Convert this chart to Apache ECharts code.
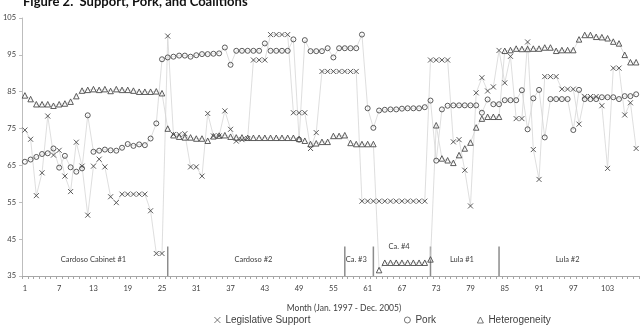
<!DOCTYPE html>
<html>
<head>
<meta charset="utf-8">
<script src="https://cdn.jsdelivr.net/npm/echarts@6/dist/echarts.min.js"></script>
<style>
  html, body { margin: 0; padding: 0; background: #fff; }
  #chart { width: 640px; height: 327px; }
</style>
</head>
<body>
<div id="chart"></div>
<script>
// months 1..108 (Jan 1997 - Dec 2005)
const months = Array.from({ length: 108 }, (_, i) => String(i + 1));

const support = [
  74.6, 72.1, 56.8, 63.0, 78.4, 67.8, 69.1, 62.1, 57.9, 71.3,
  64.8, 51.5, 64.8, 66.7, 64.6, 56.5, 54.9, 57.2, 57.2, 57.2,
  57.2, 57.2, 52.7, 41.1, 41.1, 100.1, 73.4, 73.4, 73.6, 64.6,
  64.6, 62.1, 79.1, 73.0, 73.0, 79.8, 74.8, 71.6, 72.0, 72.3,
  93.6, 93.6, 93.6, 100.5, 100.5, 100.5, 100.5, 79.3, 79.3, 79.3,
  69.6, 73.9, 90.5, 90.5, 90.5, 90.5, 90.5, 90.5, 90.5, 55.3,
  55.3, 55.3, 55.3, 55.3, 55.3, 55.3, 55.3, 55.3, 55.3, 55.3,
  55.3, 93.6, 93.6, 93.6, 93.6, 71.4, 72.0, 63.7, 54.0, 84.7,
  88.8, 85.2, 86.3, 96.2, 87.4, 94.6, 77.7, 77.7, 98.5, 69.3,
  61.2, 89.1, 89.1, 89.1, 85.7, 85.7, 85.7, 76.2, 83.7, 83.7,
  83.7, 81.2, 64.2, 91.4, 91.4, 78.7, 82.0, 69.6
];

const pork = [
  66.0, 66.6, 67.3, 68.1, 68.3, 69.6, 64.4, 67.6, 64.5, 63.3,
  64.2, 78.6, 68.7, 69.0, 69.3, 69.1, 69.0, 69.8, 70.8, 70.3,
  70.7, 70.5, 72.3, 76.4, 93.8, 94.3, 94.5, 94.8, 94.8, 94.5,
  94.9, 95.2, 95.2, 95.3, 95.4, 97.0, 92.3, 96.1, 96.1, 96.1,
  96.1, 96.1, 98.1, 96.1, 96.1, 96.1, 96.1, 99.2, 72.0, 99.0,
  96.0, 96.0, 96.0, 96.8, 94.3, 96.8, 96.8, 96.8, 96.8, 100.5,
  80.5, 75.2, 79.9, 80.1, 80.2, 80.2, 80.4, 80.5, 80.5, 80.5,
  80.8, 82.6, 66.3, 80.2, 81.2, 81.3, 81.3, 81.3, 81.3, 81.3,
  79.3, 82.9, 81.6, 81.6, 82.7, 82.7, 82.7, 85.4, 74.8, 83.2,
  85.5, 72.6, 83.0, 83.0, 83.0, 83.0, 74.6, 85.5, 83.0, 83.0,
  83.0, 83.5, 83.5, 83.5, 83.0, 83.8, 83.8, 84.3
];

const hetero = [
  84.0, 83.0, 81.6, 81.6, 81.6, 81.2, 81.6, 81.8, 82.3, 83.8,
  85.3, 85.5, 85.7, 85.5, 85.7, 85.2, 85.7, 85.5, 85.5, 85.3,
  85.0, 85.0, 85.0, 85.1, 84.6, 75.0, 73.2, 72.8, 72.6, 72.6,
  72.3, 72.3, 71.7, 72.9, 73.1, 73.2, 72.8, 72.6, 72.6, 72.5,
  72.5, 72.5, 72.5, 72.5, 72.5, 72.5, 72.5, 72.5, 72.2, 71.7,
  70.8, 71.0, 71.4, 71.4, 73.0, 73.0, 73.2, 71.1, 70.8, 70.8,
  70.8, 70.8, 36.6, 38.6, 38.6, 38.6, 38.6, 38.6, 38.6, 38.6,
  38.6, 39.5, 75.9, 66.9, 66.4, 65.7, 67.8, 69.6, 71.2, 75.3,
  77.7, 78.2, 78.2, 78.2, 96.1, 96.3, 96.7, 96.6, 96.6, 96.7,
  96.7, 97.0, 97.0, 96.1, 96.3, 96.3, 96.3, 99.2, 100.4, 100.4,
  99.9, 99.8, 99.5, 98.6, 98.1, 95.0, 93.0, 93.0
];

// cabinets
const cabinetNames = ['Cardoso Cabinet #1', 'Cardoso #2', 'Ca. #3', 'Ca. #4', 'Lula #1', 'Lula #2'];
const cabinetStart = [1, 26, 57, 62, 72, 84];
const cabinetEnd = [25, 56, 61, 71, 83, 108];
const separatorTop = 43;

const ink = '#4a4a4a';
const lineGrey = '#d6d6d6';
const smallFont = 'Lato';
const crossPath = 'path://M0,0L10,10M10,0L0,10';

const sepStarts = cabinetStart.slice(1);
const separatorData = months.map(m => sepStarts.includes(+m) ? separatorTop : '-');

function markerSeries(name, data, symbol, size) {
    return {
        name: name,
        type: 'line',
        data: data,
        symbol: symbol,
        symbolSize: size,
        showAllSymbol: true,
        lineStyle: { color: lineGrey, width: 0.8 },
        itemStyle: { color: 'transparent', borderColor: ink, borderWidth: 0.9 },
        emphasis: { disabled: true },
        animation: false
    };
}

const legendBase = {
    top: 313,
    itemWidth: 6,
    itemHeight: 6,
    itemGap: 0,
    padding: 2,
    itemStyle: { color: 'transparent', borderColor: '#555', borderWidth: 0.8 },
    textStyle: { fontFamily: 'Liberation Sans', fontSize: 10, color: '#404040' }
};

let chartDom = document.getElementById('chart');
let myChart = echarts.init(chartDom, null, { renderer: 'canvas' });

let option = {
    animation: false,
    backgroundColor: '#fff',
    title: {
        text: 'Figure 2.  Support, Pork, and Coalitions',
        left: 23,
        top: -5,
        padding: 0,
        textStyle: { fontFamily: 'Lato', fontWeight: 'bold', fontSize: 13, color: '#111' }
    },
    legend: [
        Object.assign({}, legendBase, { left: 212, data: [{ name: 'Legislative Support', icon: crossPath }] }),
        Object.assign({}, legendBase, { left: 402, data: [{ name: 'Pork', icon: 'circle' }] }),
        Object.assign({}, legendBase, { left: 475, data: [{ name: 'Heterogeneity', icon: 'triangle' }] })
    ],
    grid: { left: 20, right: 1, top: 18, bottom: 51, containLabel: false },
    xAxis: {
        type: 'category',
        data: months,
        name: 'Month (Jan. 1997 - Dec. 2005)',
        nameLocation: 'middle',
        nameGap: 28,
        nameTextStyle: { fontFamily: smallFont, fontSize: 8.5, color: '#404040', padding: [0, 0, 0, 27] },
        axisLine: { lineStyle: { color: '#a6a6a6', width: 1 } },
        axisTick: { show: true, interval: 0, length: 3, lineStyle: { color: '#a6a6a6' } },
        axisLabel: { interval: 5, fontFamily: smallFont, fontSize: 7.5, color: '#404040', margin: 9 },
        splitLine: { show: false }
    },
    yAxis: {
        type: 'value',
        min: 35,
        max: 105,
        interval: 10,
        axisLine: { show: true, lineStyle: { color: '#bdbdbd', width: 1 } },
        axisTick: { show: true, length: 3, lineStyle: { color: '#bdbdbd' } },
        axisLabel: { fontFamily: smallFont, fontSize: 7.5, color: '#404040', margin: 6 },
        splitLine: { show: false }
    },
    series: [
        {
            name: 'cabinet',
            type: 'bar',
            data: separatorData,
            barWidth: 1.5,
            itemStyle: { color: '#8c8c8c' },
            silent: true,
            animation: false,
            markArea: {
                silent: true,
                itemStyle: { color: 'transparent' },
                label: {
                    position: 'insideBottom',
                    distance: 12,
                    fontFamily: smallFont,
                    fontSize: 7.5,
                    color: '#404040'
                },
                data: cabinetNames.map((n, i) => [
                    { name: n, xAxis: String(cabinetStart[i]), label: n === 'Ca. #4' ? { distance: 25 } : {} },
                    { xAxis: String(cabinetEnd[i]) }
                ])
            }
        },
        markerSeries('Legislative Support', support, crossPath, 5),
        markerSeries('Pork', pork, 'circle', 5),
        markerSeries('Heterogeneity', hetero, 'triangle', 5.5)
    ]
};

option && myChart.setOption(option);
</script>
</body>
</html>
